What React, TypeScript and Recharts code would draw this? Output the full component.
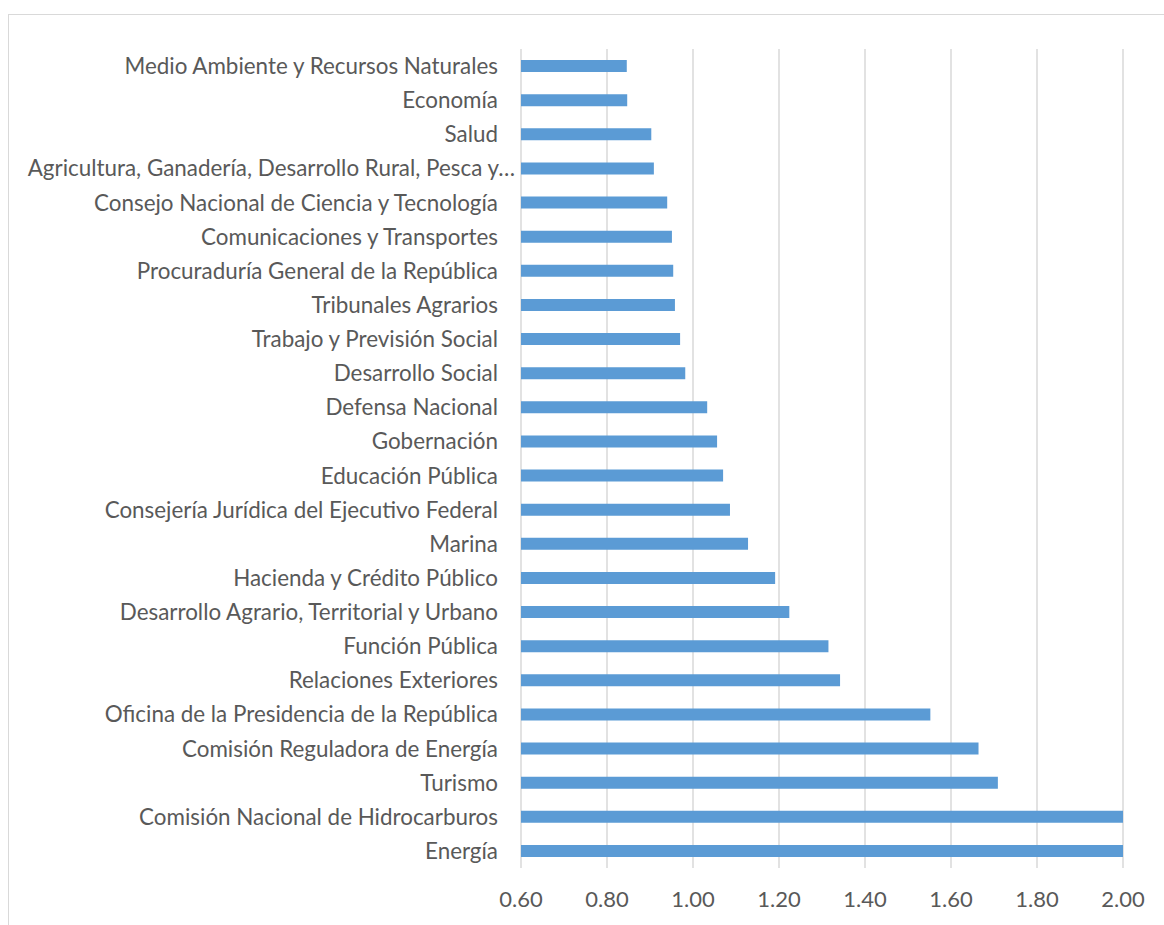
import { BarChart, Bar, XAxis, YAxis, CartesianGrid } from 'recharts';

const categories = [
  'Medio Ambiente y Recursos Naturales',
  'Economía',
  'Salud',
  'Agricultura, Ganadería, Desarrollo Rural, Pesca y…',
  'Consejo Nacional de Ciencia y Tecnología',
  'Comunicaciones y Transportes',
  'Procuraduría General de la República',
  'Tribunales Agrarios',
  'Trabajo y Previsión Social',
  'Desarrollo Social',
  'Defensa Nacional',
  'Gobernación',
  'Educación Pública',
  'Consejería Jurídica del Ejecutivo Federal',
  'Marina',
  'Hacienda y Crédito Público',
  'Desarrollo Agrario, Territorial y Urbano',
  'Función Pública',
  'Relaciones Exteriores',
  'Oficina de la Presidencia de la República',
  'Comisión Reguladora de Energía',
  'Turismo',
  'Comisión Nacional de Hidrocarburos',
  'Energía',
];

const values = [
  0.846, 0.847, 0.903, 0.909, 0.94, 0.951, 0.954, 0.958, 0.97, 0.982,
  1.033, 1.056, 1.07, 1.086, 1.128, 1.191, 1.224, 1.315, 1.342, 1.552,
  1.664, 1.709, 2.35, 2.6,
];

const xTicks = [0.6, 0.8, 1.0, 1.2, 1.4, 1.6, 1.8, 2.0];

const data = categories.map((name, i) => ({ name, value: values[i] }));

const FONT = 'Lato, "Open Sans", sans-serif';
const TEXT = '#595959';

// truncated labels sit a bit further right, like the original
const CategoryTick = (props: any) => {
  const { x, y, payload } = props;
  const label: string = payload.value;
  const shift = label.endsWith('…') ? 17 : 0;
  return (
    <text
      x={x + shift}
      y={y}
      dy="0.355em"
      textAnchor="end"
      fill={TEXT}
      fontSize={22.4}
      fontFamily={FONT}
    >
      {label}
    </text>
  );
};

export default function App() {
  return (
    <div
      style={{
        position: 'fixed',
        left: 8,
        top: 14,
        width: 1156,
        height: 911,
        borderTop: '1px solid #d9d9d9',
        borderLeft: '1px solid #d9d9d9',
        background: '#fff',
      }}
    >
      <BarChart
        width={1155}
        height={910}
        data={data}
        layout="vertical"
        margin={{ top: 34, right: 41, bottom: 0, left: 0 }}
        barCategoryGap={0}
      >
        <CartesianGrid horizontal={false} stroke="#d9d9d9" strokeWidth={1.5} />
        <XAxis
          type="number"
          domain={[0.6, 2.0]}
          ticks={xTicks}
          allowDataOverflow
          tickFormatter={(v: number) => v.toFixed(2)}
          axisLine={false}
          tickLine={false}
          tickSize={0}
          tickMargin={23}
          height={57}
          tick={{ fill: TEXT, fontSize: 22, fontFamily: FONT }}
        />
        <YAxis
          type="category"
          dataKey="name"
          width={512}
          axisLine={false}
          tickLine={false}
          tickSize={0}
          tickMargin={23}
          interval={0}
          tick={<CategoryTick />}
        />
        <Bar dataKey="value" fill="#5b9bd5" barSize={12} isAnimationActive={false} />
      </BarChart>
    </div>
  );
}
